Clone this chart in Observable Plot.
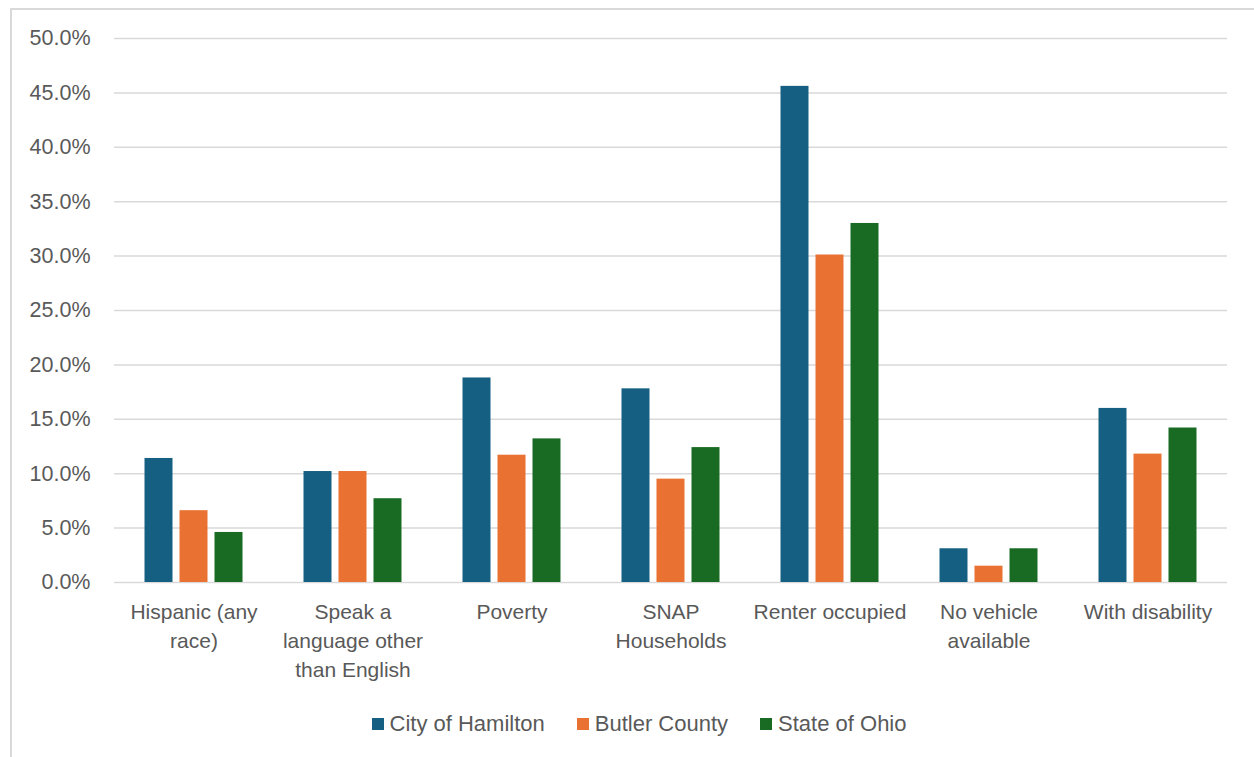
<!DOCTYPE html>
<html>
<head>
<meta charset="utf-8">
<script src="https://cdn.jsdelivr.net/npm/d3@7"></script>
<script src="https://cdn.jsdelivr.net/npm/@observablehq/plot@0.6"></script>
<style>
  html, body { margin: 0; padding: 0; background: #fff; width: 1254px; height: 757px; overflow: hidden; }
  #frame { position: absolute; left: 10px; top: 8px; width: 1260px; height: 760px; border: 2px solid #d9d9d9; box-sizing: border-box; }
  #chart { position: absolute; left: 0; top: 0; }
  #legend { position: absolute; left: 0; width: 1278px; top: 711px; display: flex; justify-content: center; gap: 32px;
            font-family: "Liberation Sans", Arial, sans-serif; font-size: 22px; color: #595959; }
  #legend .item { display: flex; align-items: center; gap: 6px; }
  #legend .sw { width: 12px; height: 12px; display: inline-block; }
</style>
</head>
<body>
<div id="frame"></div>
<div id="chart"></div>
<div id="legend"></div>
<script>
const categories = [
  "Hispanic (any race)",
  "Speak a language other than English",
  "Poverty",
  "SNAP Households",
  "Renter occupied",
  "No vehicle available",
  "With disability"
];
const categoryLabels = [
  "Hispanic (any\nrace)",
  "Speak a\nlanguage other\nthan English",
  "Poverty",
  "SNAP\nHouseholds",
  "Renter occupied",
  "No vehicle\navailable",
  "With disability"
];
const series = ["City of Hamilton", "Butler County", "State of Ohio"];
const colors = ["#156082", "#E97132", "#196B24"];
const hamilton = [0.114, 0.102, 0.188, 0.178, 0.456, 0.031, 0.160];
const butler   = [0.066, 0.102, 0.117, 0.095, 0.301, 0.015, 0.118];
const ohio     = [0.046, 0.077, 0.132, 0.124, 0.330, 0.031, 0.142];
const yTicks = [0, 0.05, 0.10, 0.15, 0.20, 0.25, 0.30, 0.35, 0.40, 0.45, 0.50];

const valuesBySeries = [hamilton, butler, ohio];
const data = [];
categories.forEach((c, i) => {
  series.forEach((s, j) => data.push({category: c, series: s, value: valuesBySeries[j][i]}));
});
const labelOf = new Map(categories.map((c, i) => [c, categoryLabels[i]]));

const chart = Plot.plot({
  width: 1254,
  height: 690,
  marginLeft: 111.5,
  marginRight: 24.5,
  marginTop: 38,
  marginBottom: 108,
  style: { fontFamily: "'Liberation Sans', Arial, sans-serif", background: "transparent" },
  fx: { domain: categories, padding: 0, label: null },
  x: { domain: series, paddingInner: 0.2, paddingOuter: 0.858, axis: null },
  y: { domain: [0, 0.5], label: null },
  color: { domain: series, range: colors },
  marks: [
    Plot.gridY(yTicks, { stroke: "#d9d9d9", strokeOpacity: 1, strokeWidth: 1.5 }),
    Plot.axisY({ ticks: yTicks, tickFormat: d3.format(".1%"), tickSize: 0, tickPadding: 24,
                 fontSize: 21.5, fill: "#595959", label: null }),
    Plot.axisFx({ anchor: "bottom", tickSize: 0, tickPadding: 16, fontSize: 21, fill: "#595959",
                  lineHeight: 1.38, tickFormat: d => labelOf.get(d), label: null }),
    Plot.barY(data, { fx: "category", x: "series", y: "value", fill: "series" })
  ]
});
document.getElementById("chart").appendChild(chart);

const legend = document.getElementById("legend");
series.forEach((s, j) => {
  const item = document.createElement("div");
  item.className = "item";
  const sw = document.createElement("span");
  sw.className = "sw";
  sw.style.background = colors[j];
  const t = document.createElement("span");
  t.textContent = s;
  item.appendChild(sw);
  item.appendChild(t);
  legend.appendChild(item);
});
</script>
</body>
</html>
